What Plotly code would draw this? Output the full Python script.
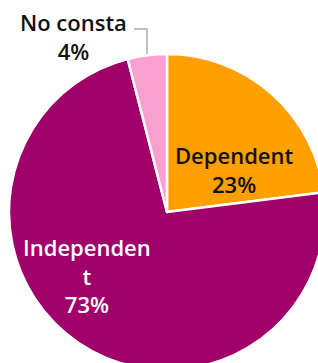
import plotly.graph_objects as go

categories = ["Dependent", "Independent", "No consta"]
values = [23, 73, 4]
display_labels = ["Dependent", "Independen<br>t", "No consta"]
colors = ["#FF9F00", "#A1006B", "#F99FD2"]
text_colors = ["#111111", "#FFFFFF", "#111111"]

W, H = 340, 390
cx, cy, r = 167, 212, 158

fig = go.Figure(go.Pie(
    labels=categories,
    values=values,
    sort=False,
    direction="clockwise",
    rotation=0,
    marker=dict(colors=colors, line=dict(color="#FFFFFF", width=2.5)),
    textinfo="none",
    hoverinfo="label+percent",
    showlegend=False,
    domain=dict(x=[(cx - r) / W, (cx + r) / W], y=[(H - cy - r) / H, (H - cy + r) / H]),
))

label_pos = [(234, 169), (87, 275), (73, 36)]
total = sum(values)
for lbl, v, col, (px, py) in zip(display_labels, values, text_colors, label_pos):
    fig.add_annotation(
        x=px / W, y=1 - py / H, xref="paper", yref="paper",
        xanchor="center", yanchor="middle",
        text=f"{lbl}<br>{round(100 * v / total)}%",
        showarrow=False, align="center",
        font=dict(family="Open Sans", size=22, color=col, weight=600),
    )

x0, x1, y0, y1 = 134, 147, 29, 54
fig.add_shape(
    type="path",
    path=f"M {x0/W} {1-y0/H} L {x1/W} {1-y0/H} L {x1/W} {1-y1/H}",
    xref="paper", yref="paper",
    line=dict(color="#AAAAAA", width=1.5),
)

fig.update_layout(
    width=W, height=H,
    margin=dict(l=0, r=0, t=0, b=0),
    paper_bgcolor="#FFFFFF",
    plot_bgcolor="#FFFFFF",
)

fig.write_html(
    "out.html",
    config={"displayModeBar": False},
    post_script="document.body.style.margin='0';document.body.style.overflow='hidden';document.documentElement.style.overflow='hidden';",
)
